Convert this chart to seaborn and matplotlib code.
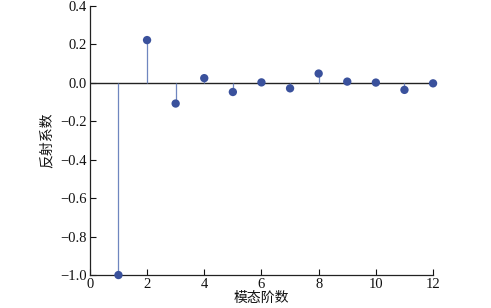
import matplotlib
matplotlib.use("Agg")
import matplotlib.pyplot as plt
import seaborn as sns
import pandas as pd

modes = [1, 2, 3, 4, 5, 6, 7, 8, 9, 10, 11, 12]
coef = [-1.0, 0.222, -0.108, 0.024, -0.048, 0.002, -0.029, 0.048, 0.006, 0.001, -0.037, -0.003]
xticks = [0, 2, 4, 6, 8, 10, 12]
yticks = [-1.0, -0.8, -0.6, -0.4, -0.2, 0.0, 0.2, 0.4]

sns.set_theme(style="ticks")
plt.rcParams['font.family'] = ['Liberation Serif', 'Noto Sans CJK SC']
plt.rcParams['axes.unicode_minus'] = True

df = pd.DataFrame({"mode": modes, "coef": coef})

fig = plt.figure(figsize=(4.91, 3.08), dpi=100)
ax = fig.add_axes([0.183, 0.107, 0.699, 0.874])

ax.vlines(df["mode"], 0, df["coef"], color="#6f86bf", linewidth=0.9, zorder=2)
ax.axhline(0, color="#222222", linewidth=1.0, zorder=1)
sns.scatterplot(data=df, x="mode", y="coef", ax=ax, color="#3a519c", s=36,
                edgecolor="none", zorder=3, legend=False, clip_on=False)

ax.set_xlim(0, 12)
ax.set_ylim(-1.0, 0.4)
ax.set_xticks(xticks)
ax.set_yticks(yticks)
ax.set_yticklabels([f"{v:.1f}".replace("-", "\u2212") for v in yticks])
ax.tick_params(direction="in", length=4, width=0.8, labelsize=10.5, colors="#111111", pad=2)
for s in ["top", "right"]:
    ax.spines[s].set_visible(False)
for s in ["left", "bottom"]:
    ax.spines[s].set_linewidth(0.9)
    ax.spines[s].set_color("#222222")

ax.set_xlabel("模态阶数", fontsize=10, labelpad=0, color="#111111", family=['Noto Sans CJK SC'])
ax.set_ylabel("反射系数", fontsize=10, labelpad=5, color="#111111", family=['Noto Sans CJK SC'])

fig.savefig("out.png", dpi=100)
